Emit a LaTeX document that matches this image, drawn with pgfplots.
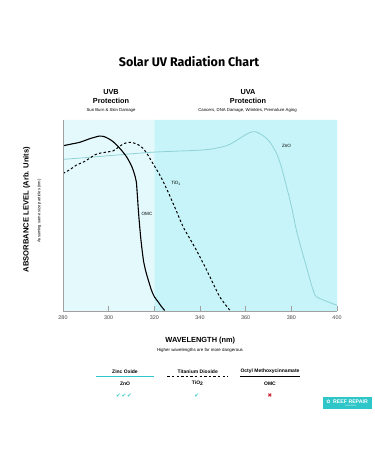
\documentclass[border=0pt]{standalone}
\usepackage{pgfplots}
\pgfplotsset{compat=1.18}
\usepackage{fontspec}
\setmainfont{Liberation Sans}
\newfontfamily\titlefont{Fira Sans}
\newfontfamily\symfont{DejaVu Sans}
\definecolor{uvb}{HTML}{E4F9FC}
\definecolor{uva}{HTML}{C6F4F9}
\definecolor{zno}{HTML}{8FD2D6}
\definecolor{tealA}{HTML}{2EC6C8}
\definecolor{redx}{HTML}{C8202F}
\definecolor{axisgrey}{HTML}{A0A0A0}
\definecolor{txtgrey}{HTML}{444444}
\begin{document}
\begin{tikzpicture}[x=1pt,y=1pt]
\path[fill=white] (0pt,0pt) rectangle (375pt,450pt);
\begin{axis}[at={(63pt,139pt)}, anchor=south west, scale only axis,
  width=274pt, height=191pt,
  xmin=280, xmax=400, ymin=0, ymax=100,
  axis lines=left, axis line style={axisgrey,-},
  axis on top,
  ytick=\empty,
  xtick={280,300,...,400},
  tick align=inside, major tick length=5pt,
  tick style={axisgrey, line width=0.5pt},
  /pgf/number format/assume math mode=true,
  /pgf/number format/1000 sep={},
  xticklabel style={font=\fontsize{5.4}{6}\selectfont, text=txtgrey, yshift=-1pt},
  clip=true]
\addplot[draw=none, fill=uvb, forget plot] coordinates {(280,0) (280,100) (320,100) (320,0)} \closedcycle;
\addplot[draw=none, fill=uva, forget plot] coordinates {(320,0) (320,100) (400,100) (400,0)} \closedcycle;
% ZnO
\addplot[zno, line width=0.8pt, smooth, tension=0.4] coordinates {
(280,79.4) (290,80.3) (300,81.3) (310,82.3) (320,83.2) (330,83.7) (340,84.2) (345,84.8) (350,86) (353,87.2) (355,88.6) (357.4,90.4) (360,92.3) (362,93.5) (363.5,93.9) (365,93.6) (367,92.3) (369.1,90.4) (371,87.8) (373.5,82.6) (375.5,76) (377.9,65.1) (380,55) (382.2,42.4) (384.5,32) (386.6,23.2) (388.5,15) (390.3,8.4) (392,6.8) (393.9,5.8) (396,4.8) (400,3)};
% TiO2
\addplot[black, line width=1pt, dash pattern=on 2.4pt off 2.2pt, smooth, tension=0.4] coordinates {
(280,72) (283,74) (285.9,76.4) (289,78) (291.7,80) (294,81.8) (296.1,82.6) (299,83.2) (301.9,83.8) (304,85.5) (306,87.2) (307.8,88.1) (309.5,88.3) (310.7,88.1) (313,87) (315,85.2) (317,82) (318,80) (320,76) (322,72) (324,67.5) (326.7,60.5) (329.6,52.5) (332.6,44.1) (335.5,38) (338.4,31.9) (341.4,25) (344.3,18) (346.5,12.5) (348.6,7.5) (351,3.5) (353,0.5)};
% OMC
\addplot[black, line width=1.1pt, smooth, tension=0.4] coordinates {
(280,86.5) (284,87.5) (287.3,88.3) (291.7,90.2) (294,91.0) (296,91.6) (298,91.3) (300,90.2) (302,88.6) (305,85) (307.8,80.8) (310,76) (311.2,72) (312.1,67.7) (312.6,60) (313,52.9) (313.6,44) (314.3,35.4) (315.3,26) (316.5,19.7) (318.7,11) (320,7.5) (321.6,4.9) (323,2.5) (324.5,0.3)};
\node[font=\fontsize{4.6}{5}\selectfont] at (axis cs:377.9,86.4) {ZnO};
\node[font=\fontsize{4.6}{5}\selectfont] at (axis cs:329.5,66.9) {TiO\textsubscript{2}};
\node[font=\fontsize{4.6}{5}\selectfont] at (axis cs:316.8,50.8) {OMC};
\end{axis}
% titles
\node[font=\titlefont\bfseries\fontsize{12.5}{14}\selectfont] at (189pt,388pt) {Solar UV Radiation Chart};
\node[font=\bfseries\fontsize{7.3}{8}\selectfont] at (111pt,358.3pt) {UVB};
\node[font=\bfseries\fontsize{7.3}{8}\selectfont] at (111pt,349.3pt) {Protection};
\node[font=\fontsize{4.3}{5}\selectfont] at (111pt,339.3pt) {Sun Burn \& Skin Damage};
\node[font=\bfseries\fontsize{7.3}{8}\selectfont] at (248pt,358.3pt) {UVA};
\node[font=\bfseries\fontsize{7.3}{8}\selectfont] at (248pt,349.3pt) {Protection};
\node[font=\fontsize{4.3}{5}\selectfont] at (247.5pt,339.3pt) {Cancers, DNA Damage, Wrinkles, Premature Aging};
% axis titles
\node[rotate=90, font=\bfseries\fontsize{7.6}{8}\selectfont] at (26.7pt,240.5pt) {ABSORBANCE LEVEL (Arb. Units)};
\node[rotate=90, font=\fontsize{4.1}{5}\selectfont] at (39.3pt,239pt) {Assuming same size particles (nm)};
\node[font=\bfseries\fontsize{7.4}{8}\selectfont] at (200.3pt,109.3pt) {WAVELENGTH (nm)};
\node[font=\fontsize{4.4}{5}\selectfont] at (200pt,99.3pt) {Higher wavelengths are far more dangerous};
% legend table
\node[font=\bfseries\fontsize{5}{6}\selectfont] at (125pt,78.3pt) {Zinc Oxide};
\node[font=\bfseries\fontsize{5}{6}\selectfont] at (197.7pt,78.3pt) {Titanium Dioxide};
\node[font=\bfseries\fontsize{5}{6}\selectfont] at (270pt,78.3pt) {Octyl Methoxycinnamate};
\draw[tealA, line width=1pt] (95.7pt,73.3pt) -- (154.3pt,73.3pt);
\draw[black, line width=1pt, dash pattern=on 2.4pt off 2.2pt] (167.3pt,73.3pt) -- (227.3pt,73.3pt);
\draw[black, line width=1pt] (240pt,73.3pt) -- (300pt,73.3pt);
\node[font=\bfseries\fontsize{5}{6}\selectfont] at (125pt,66.7pt) {ZnO};
\node[font=\bfseries\fontsize{5}{6}\selectfont] at (197.7pt,66.7pt) {TiO\textsubscript{2}};
\node[font=\bfseries\fontsize{5}{6}\selectfont] at (270pt,66.7pt) {OMC};
\node[font=\symfont\fontsize{5.5}{6}\selectfont, text=tealA] at (124pt,54.3pt) {✔\,✔\,✔};
\node[font=\symfont\fontsize{5.5}{6}\selectfont, text=tealA] at (196.7pt,54.3pt) {✔};
\node[font=\symfont\fontsize{5.5}{6}\selectfont, text=redx] at (270pt,54.3pt) {✖};
% logo
\fill[tealA] (323pt,41pt) rectangle (372pt,53pt);
\node[font=\symfont\fontsize{5}{6}\selectfont, text=white] at (328.5pt,48.5pt) {✿};
\node[font=\bfseries\fontsize{5.2}{6}\selectfont, text=white] at (350.5pt,48.5pt) {REEF REPAIR};
\node[font=\fontsize{1.8}{2}\selectfont, text=white] at (350.5pt,44pt) {SUNSCREEN};
\end{tikzpicture}
\end{document}
